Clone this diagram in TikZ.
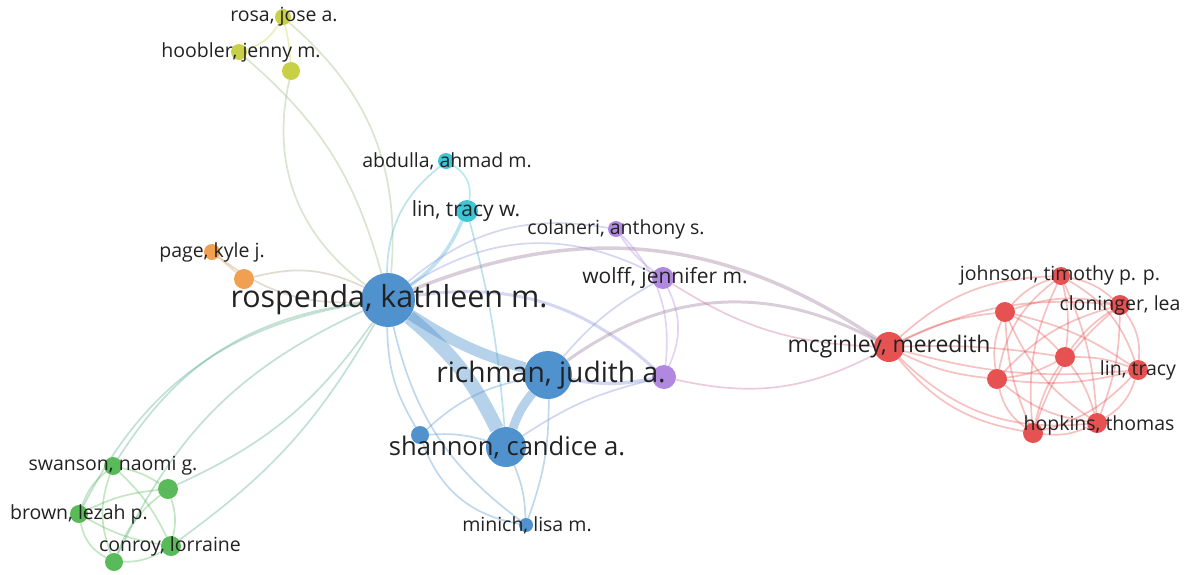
\documentclass[tikz,border=0pt]{standalone}
\usepackage{fontspec}
\setmainfont{Open Sans}
\usetikzlibrary{backgrounds}
\definecolor{cB}{RGB}{80,146,206}
\definecolor{cR}{RGB}{230,82,82}
\definecolor{cG}{RGB}{88,186,88}
\definecolor{cY}{RGB}{200,208,72}
\definecolor{cC}{RGB}{62,198,214}
\definecolor{cO}{RGB}{240,160,80}
\definecolor{cP}{RGB}{176,136,224}
\definecolor{labc}{RGB}{34,34,34}
\begin{document}
\begin{tikzpicture}[x=1pt,y=-1pt,
  nd/.style={circle,inner sep=0pt,minimum size=#1,draw=none},
  lb/.style={text=labc,inner sep=0pt,font=\fontsize{19.5}{20}\selectfont},
  ed/.style={line width=1.7pt,draw opacity=0.36},
  L/.style={bend left=#1},
  R/.style={bend right=#1}]
\useasboundingbox (0,0) rectangle (1189,574);
% ---- nodes
\node[nd=16pt,fill=cY] (rosa) at (283,17) {};
\node[nd=16pt,fill=cY] (hoob) at (239,52) {};
\node[nd=18pt,fill=cY] (y3) at (291,71) {};
\node[nd=16pt,fill=cC] (abd) at (446,161) {};
\node[nd=22pt,fill=cC] (lintw) at (467,211) {};
\node[nd=16pt,fill=cO] (page) at (212,252) {};
\node[nd=20pt,fill=cO] (o2) at (244,279) {};
\node[nd=54pt,fill=cB] (ros) at (388,300) {};
\node[nd=48pt,fill=cB] (rich) at (548,375) {};
\node[nd=40pt,fill=cB] (shan) at (506,447) {};
\node[nd=18pt,fill=cB] (sb) at (420,435) {};
\node[nd=14pt,fill=cB] (min) at (526,525) {};
\node[nd=16pt,fill=cP] (col) at (616,229) {};
\node[nd=22pt,fill=cP] (wolff) at (663,278) {};
\node[nd=24pt,fill=cP] (p3) at (664,377) {};
\node[nd=30pt,fill=cR] (mcg) at (889,347) {};
\node[nd=18pt,fill=cR] (john) at (1061,276) {};
\node[nd=20pt,fill=cR] (r1) at (1005,312) {};
\node[nd=20pt,fill=cR] (clon) at (1120,305) {};
\node[nd=20pt,fill=cR] (rc) at (1065,357) {};
\node[nd=20pt,fill=cR] (r2) at (997,379) {};
\node[nd=20pt,fill=cR] (lint) at (1138,370) {};
\node[nd=20pt,fill=cR] (r3) at (1033,433) {};
\node[nd=20pt,fill=cR] (hop) at (1097,423) {};
\node[nd=18pt,fill=cG] (swan) at (113,466) {};
\node[nd=20pt,fill=cG] (g2) at (168,489) {};
\node[nd=18pt,fill=cG] (brown) at (79,514) {};
\node[nd=20pt,fill=cG] (conroy) at (171,546) {};
\node[nd=18pt,fill=cG] (g3) at (114,562) {};
% ---- labels
\node[lb] (Lrosa) at (284,17) {rosa, jose a.};
\node[lb] (Lhoob) at (241,52) {hoobler, jenny m.};
\node[lb] (Labd) at (447,161) {abdulla, ahmad m.};
\node[lb,font=\fontsize{21}{22}\selectfont] (Llintw) at (466,211) {lin, tracy w.};
\node[lb] (Lpage) at (212,252) {page, kyle j.};
\node[lb,font=\fontsize{30.4}{32}\selectfont] (Lros) at (389,300) {rospenda, kathleen m.};
\node[lb,font=\fontsize{28.2}{30}\selectfont] (Lrich) at (551,375) {richman, judith a.};
\node[lb,font=\fontsize{25.6}{27}\selectfont] (Lshan) at (507,447) {shannon, candice a.};
\node[lb] (Lmin) at (527,525) {minich, lisa m.};
\node[lb] (Lcol) at (616,229) {colaneri, anthony s.};
\node[lb,font=\fontsize{21}{22}\selectfont] (Lwolff) at (665,278) {wolff, jennifer m.};
\node[lb,font=\fontsize{22.9}{24}\selectfont] (Lmcg) at (889,347) {mcginley, meredith};
\node[lb] (Ljohn) at (1060,275) {johnson, timothy p. p.};
\node[lb] (Lclon) at (1120,305) {cloninger, lea};
\node[lb] (Llint) at (1138,370) {lin, tracy};
\node[lb] (Lhop) at (1099,425) {hopkins, thomas};
\node[lb] (Lswan) at (113,466) {swanson, naomi g.};
\node[lb] (Lbrown) at (79,514) {brown, lezah p.};
\node[lb] (Lconroy) at (170,546) {conroy, lorraine};
% ---- edges
\begin{scope}[on background layer]
% thick blue
\draw[ed,draw=cB,line width=14pt,draw opacity=0.42] (ros) to[L=12] (shan);
\draw[ed,draw=cB,line width=11pt,draw opacity=0.42] (ros) to[R=8] (rich);
\draw[ed,draw=cB,line width=9pt,draw opacity=0.42] (rich) to[R=10] (shan);
% yellow
\draw[ed,draw=cY] (rosa) to[L=20] (hoob);
\draw[ed,draw=cY] (rosa) to[L=5] (y3);
\draw[ed,draw=cY!60!cB] (rosa) to[L=27] (ros);
\draw[ed,draw=cY!60!cB] (hoob) to[L=17] (ros);
\draw[ed,draw=cY!60!cB] (y3) to[R=33] (ros);
% cyan
\draw[ed,draw=cC] (abd) to[L=35] (lintw);
\draw[ed,draw=cC!60!cB] (abd) to[R=25] (ros);
\draw[ed,draw=cC!60!cB,line width=3.5pt] (lintw) to[L=15] (ros);
\draw[ed,draw=cC!50!cB] (lintw) to[L=5] (shan);
% orange
\draw[ed,draw=cO] (page) to (o2);
\draw[ed,draw=cO!60!cB] (o2) to[L=20] (ros);
\draw[ed,draw=cO!60!cB] (page) to[R=20] (ros);
% green to rospenda
\draw[ed,draw=cG!60!cB] (ros) to[R=27] (brown);
\draw[ed,draw=cG!60!cB] (ros) to[R=25] (swan);
\draw[ed,draw=cG!60!cB] (ros) to[R=20] (g3);
\draw[ed,draw=cG!60!cB] (ros) to[L=15] (g2);
\draw[ed,draw=cG!60!cB] (ros) to[L=12] (conroy);
% green internal
\draw[ed,draw=cG] (swan) to[R=15] (brown);
\draw[ed,draw=cG] (swan) to[L=10] (g2);
\draw[ed,draw=cG] (swan) to[L=10] (conroy);
\draw[ed,draw=cG] (swan) to[R=20] (g3);
\draw[ed,draw=cG] (brown) to[L=10] (g2);
\draw[ed,draw=cG] (brown) to[R=10] (conroy);
\draw[ed,draw=cG] (brown) to[R=25] (g3);
\draw[ed,draw=cG] (g2) to[L=15] (conroy);
\draw[ed,draw=cG] (g2) to[R=15] (g3);
\draw[ed,draw=cG] (conroy) to[L=15] (g3);
% blue thin
\draw[ed,draw=cB] (ros) to[R=15] (sb);
\draw[ed,draw=cB] (ros) to[R=20] (min);
\draw[ed,draw=cB] (sb) to[L=10] (shan);
\draw[ed,draw=cB] (sb) to[L=15] (rich);
\draw[ed,draw=cB] (sb) to[R=30] (min);
\draw[ed,draw=cB] (shan) to[L=10] (min);
\draw[ed,draw=cB] (rich) to[L=10] (min);
% purple and links to the right
\draw[ed,draw=cP!50!cB,line width=3.5pt] (rich) to[R=10] (p3);
\draw[ed,draw=cP!60!cB,line width=3pt] (ros) to[L=25] (p3);
\draw[ed,draw=cP!60!cB] (ros) to[L=30] (wolff);
\draw[ed,draw=cP!60!cB] (ros) to[L=25] (col);
\draw[ed,draw=cR!45!cB,line width=3.5pt] (ros) to[L=28] (mcg);
\draw[ed,draw=cR!45!cB,line width=3pt] (rich) to[L=32] (mcg);
\draw[ed,draw=cR!50!cP] (p3) to[R=20] (mcg);
\draw[ed,draw=cR!50!cP] (wolff) to[R=15] (mcg);
\draw[ed,draw=cP] (col) to[R=10] (wolff);
\draw[ed,draw=cP] (wolff) to[L=25] (p3);
\draw[ed,draw=cP] (col) to[L=25] (p3);
\draw[ed,draw=cP!50!cB] (wolff) to[R=10] (rich);
\draw[ed,draw=cP!50!cB] (p3) to[R=10] (shan);
% red
\draw[ed,draw=cR] (mcg) to[L=20] (john);
\draw[ed,draw=cR] (mcg) to[L=10] (r1);
\draw[ed,draw=cR] (mcg) to[L=15] (clon);
\draw[ed,draw=cR] (mcg) to[L=5] (rc);
\draw[ed,draw=cR] (mcg) to[R=10] (r2);
\draw[ed,draw=cR] (mcg) to[R=10] (lint);
\draw[ed,draw=cR] (mcg) to[R=20] (r3);
\draw[ed,draw=cR] (mcg) to[R=25] (hop);
\draw[ed,draw=cR] (john) to[R=15] (r1);
\draw[ed,draw=cR] (john) to[L=15] (clon);
\draw[ed,draw=cR] (john) to[L=10] (rc);
\draw[ed,draw=cR] (john) to[R=20] (r2);
\draw[ed,draw=cR] (john) to[L=20] (lint);
\draw[ed,draw=cR] (john) to[R=15] (r3);
\draw[ed,draw=cR] (john) to[L=10] (hop);
\draw[ed,draw=cR] (r1) to[L=15] (clon);
\draw[ed,draw=cR] (r1) to[L=10] (rc);
\draw[ed,draw=cR] (r1) to[R=15] (r2);
\draw[ed,draw=cR] (r1) to[L=10] (lint);
\draw[ed,draw=cR] (r1) to[R=10] (r3);
\draw[ed,draw=cR] (r1) to[R=15] (hop);
\draw[ed,draw=cR] (clon) to[R=10] (rc);
\draw[ed,draw=cR] (clon) to[R=15] (r2);
\draw[ed,draw=cR] (clon) to[L=20] (lint);
\draw[ed,draw=cR] (clon) to[R=15] (r3);
\draw[ed,draw=cR] (clon) to[L=10] (hop);
\draw[ed,draw=cR] (rc) to[L=10] (r2);
\draw[ed,draw=cR] (rc) to[L=10] (lint);
\draw[ed,draw=cR] (rc) to[R=10] (r3);
\draw[ed,draw=cR] (rc) to[L=10] (hop);
\draw[ed,draw=cR] (r2) to[R=10] (lint);
\draw[ed,draw=cR] (r2) to[R=20] (r3);
\draw[ed,draw=cR] (r2) to[R=15] (hop);
\draw[ed,draw=cR] (lint) to[L=15] (r3);
\draw[ed,draw=cR] (lint) to[L=20] (hop);
\draw[ed,draw=cR] (r3) to[R=15] (hop);
\end{scope}
\end{tikzpicture}
\end{document}
